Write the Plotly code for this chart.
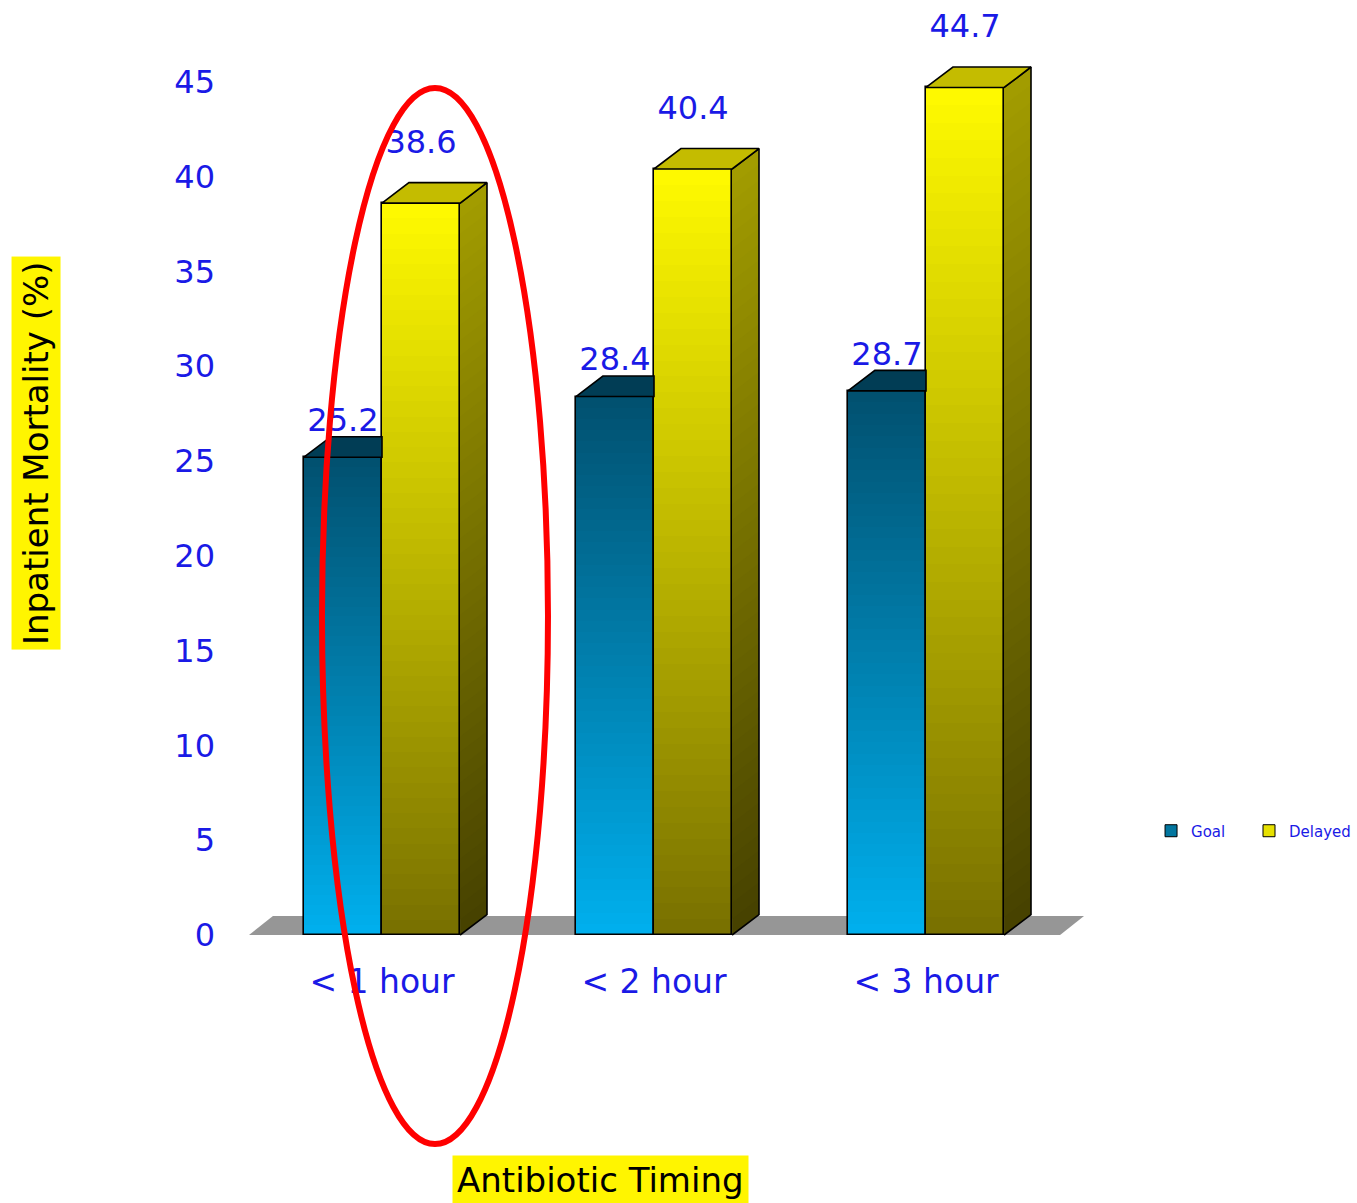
import plotly.graph_objects as go

# Inpatient mortality by antibiotic timing
categories = ["< 1 hour", "< 2 hour", "< 3 hour"]
goal = [25.2, 28.4, 28.7]
delayed = [38.6, 40.4, 44.7]
y_ticks = [0, 5, 10, 15, 20, 25, 30, 35, 40, 45]

FONT = "DejaVu Sans"
BLUE = "#1a1ae6"

# geometry of the pseudo-3D columns (data units)
W = 0.287      # column width
DX = 0.099     # depth offset along x
DY = 1.08      # depth offset along y
N = 48         # gradient steps

series = [
    dict(name="Goal", values=goal, offset=-W / 2, legend_id="legend",
         front_bottom="#00b0ee", front_top="#01506f",
         top_face="#013d55", legend="#02769f", label_lift=1.8),
    dict(name="Delayed", values=delayed, offset=W / 2, legend_id="legend2",
         front_bottom="#787000", front_top="#fffa00",
         side_bottom="#464100", side_top="#a39d00",
         top_face="#c4bc00", legend="#e6e000", label_lift=3.06),
]


def hex_rgb(h):
    h = h.lstrip("#")
    return tuple(int(h[i:i + 2], 16) for i in (0, 2, 4))


def lerp(c0, c1, t):
    a, b = hex_rgb(c0), hex_rgb(c1)
    return "rgb(%d,%d,%d)" % tuple(round(a[i] + (b[i] - a[i]) * t) for i in range(3))


xs = list(range(len(categories)))
fig = go.Figure()

# front faces: a solid base column (legend entry) and stacked gradient layers
for s in series:
    cx = [i + s["offset"] for i in xs]
    fig.add_trace(go.Bar(
        x=cx, y=s["values"], width=W, name=s["name"], legend=s["legend_id"],
        marker=dict(color=s["legend"], line=dict(color="black", width=1)),
        hoverinfo="skip"))
    for k in range(N):
        t = (k + 0.5) / N
        bases = [v * k / N for v in s["values"]]
        heights = [v - b for v, b in zip(s["values"], bases)]
        fig.add_trace(go.Bar(
            x=cx, y=heights, base=bases, width=W, showlegend=False,
            marker=dict(color=lerp(s["front_bottom"], s["front_top"], t), line=dict(width=0)),
            hoverinfo="skip"))
    fig.add_trace(go.Bar(
        x=cx, y=s["values"], width=W, showlegend=False,
        marker=dict(color="rgba(0,0,0,0)", line=dict(color="black", width=1.6)),
        hoverinfo="skip"))

# side face of the rear (Delayed) columns, shaded from bottom to top
d = series[1]
for k in range(N):
    t = (k + 0.5) / N
    px, py = [], []
    for i, v in zip(xs, d["values"]):
        x1 = i + W
        b = v * k / N
        px += [x1, x1 + DX, x1 + DX, x1, x1, None]
        py += [b, b + DY, v + DY, v, b, None]
    fig.add_trace(go.Scatter(
        x=px, y=py, mode="lines", fill="toself",
        fillcolor=lerp(d["side_bottom"], d["side_top"], t),
        line=dict(width=0), showlegend=False, hoverinfo="skip"))

# outline of the side faces
px, py = [], []
for i, v in zip(xs, d["values"]):
    x1 = i + W
    px += [x1, x1 + DX, x1 + DX, x1, None]
    py += [0, DY, v + DY, v, None]
fig.add_trace(go.Scatter(x=px, y=py, mode="lines", line=dict(color="black", width=1.6),
                         showlegend=False, hoverinfo="skip"))

# top faces; the front column's top is only visible up to the rear column
for s in series:
    px, py = [], []
    for i, v in zip(xs, s["values"]):
        x0 = i + s["offset"] - W / 2
        x1 = x0 + W
        if s["name"] == "Goal":
            px += [x0, x0 + DX, x1, x1, x0, None]
        else:
            px += [x0, x0 + DX, x1 + DX, x1, x0, None]
        py += [v, v + DY, v + DY, v, v, None]
    fig.add_trace(go.Scatter(
        x=px, y=py, mode="lines", fill="toself", fillcolor=s["top_face"],
        line=dict(color="black", width=1.6), showlegend=False, hoverinfo="skip"))

# value labels
for s in series:
    fig.add_trace(go.Scatter(
        x=[i + s["offset"] for i in xs],
        y=[v + s["label_lift"] for v in s["values"]],
        text=[f"{v:.1f}" for v in s["values"]],
        mode="text", textposition="middle center",
        textfont=dict(family=FONT, size=32, color=BLUE),
        showlegend=False, hoverinfo="skip"))

# grey floor under the columns
fx0, fx1 = -0.489, 2.493
fig.add_shape(type="path", xref="x", yref="y", layer="below",
              path=f"M {fx0},0 L {fx0 + 0.088},1.0 L {fx1 + 0.088},1.0 L {fx1},0 Z",
              fillcolor="#969696", line=dict(width=0))

# highlight ring around the first group
fig.add_shape(type="circle", xref="paper", yref="paper", layer="above",
              x0=0.0895, x1=0.3557, y0=-0.2118, y1=0.9117,
              line=dict(color="#ff0000", width=6))

# axis titles on yellow
fig.add_annotation(text="Inpatient Mortality (%)", xref="paper", yref="paper",
                   x=-0.2473, y=0.5234, xanchor="center", yanchor="middle",
                   textangle=-90, showarrow=False,
                   font=dict(family=FONT, size=34, color="black"),
                   bgcolor="#fff500", borderpad=4)
fig.add_annotation(text="Antibiotic Timing", xref="paper", yref="paper",
                   x=0.4175, y=-0.2503, xanchor="center", yanchor="middle",
                   showarrow=False,
                   font=dict(family=FONT, size=34, color="black"),
                   bgcolor="#fff500", borderpad=4)

legend_style = dict(orientation="h", y=0.1213, xanchor="left", yanchor="middle",
                    font=dict(family=FONT, size=15, color=BLUE), itemwidth=30,
                    bgcolor="rgba(0,0,0,0)")

fig.update_layout(
    width=1357, height=1203,
    margin=dict(l=246, r=262, t=5, b=258, autoexpand=False),
    paper_bgcolor="white", plot_bgcolor="white",
    barmode="overlay", bargap=0,
    font=dict(family=FONT, color=BLUE),
    legend=dict(x=1.066, **legend_style),
    legend2=dict(x=1.1814, **legend_style),
    xaxis=dict(range=[-0.5, 2.6213], tickvals=xs, ticktext=categories,
               showgrid=False, zeroline=False, showline=False, ticks="",
               tickfont=dict(family=FONT, size=33, color=BLUE), ticklabelstandoff=14),
    yaxis=dict(range=[-0.527, 49.05], tickvals=y_ticks,
               showgrid=False, zeroline=False, showline=False, ticks="",
               tickfont=dict(family=FONT, size=32, color=BLUE), ticklabelstandoff=30),
)

fig.write_html("out.html")
